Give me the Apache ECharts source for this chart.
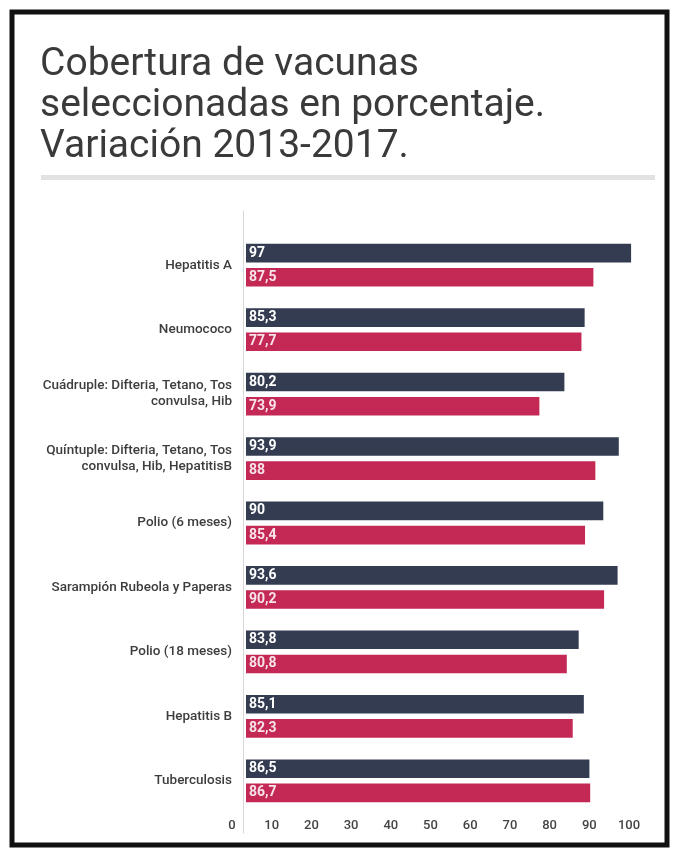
<!DOCTYPE html>
<html>
<head>
<meta charset="utf-8">
<script src="https://cdn.jsdelivr.net/npm/echarts@6/dist/echarts.min.js"></script>
<style>
  html, body { margin: 0; padding: 0; background: #ffffff; }
  #chart { width: 674px; height: 851px; }
</style>
</head>
<body>
<div id="chart"></div>
<script>
const titleText = 'Cobertura de vacunas\nseleccionadas en porcentaje.\nVariación 2013-2017.';
const categories = [
  'Hepatitis A',
  'Neumococo',
  'Cuádruple: Difteria, Tetano, Tos\nconvulsa, Hib',
  'Quíntuple: Difteria, Tetano, Tos\nconvulsa, Hib, HepatitisB',
  'Polio (6 meses)',
  'Sarampión Rubeola y Paperas',
  'Polio (18 meses)',
  'Hepatitis B',
  'Tuberculosis'
];
// printed values (labels inside the bars)
const labels2013 = [97, 85.3, 80.2, 93.9, 90, 93.6, 83.8, 85.1, 86.5];
const labels2017 = [87.5, 77.7, 73.9, 88, 85.4, 90.2, 80.8, 82.3, 86.7];
// bar lengths as drawn in the picture (the Neumococo red bar is drawn longer than its label)
const bars2013 = [97, 85.3, 80.2, 93.9, 90, 93.6, 83.8, 85.1, 86.5];
const bars2017 = [87.5, 84.5, 73.9, 88, 85.4, 90.2, 80.8, 82.3, 86.7];
const xTicks = [0, 10, 20, 30, 40, 50, 60, 70, 80, 90, 100];

const fmt = v => String(v).replace('.', ',');

const chart = echarts.init(document.getElementById('chart'), null, { renderer: 'canvas' });
chart.setOption({
  backgroundColor: '#ffffff',
  animation: false,
  title: {
    text: titleText,
    left: 35,
    top: 40,
    textStyle: {
      fontFamily: 'Roboto',
      fontSize: 39,
      fontWeight: 'normal',
      lineHeight: 41,
      color: '#3a3a3a'
    }
  },
  graphic: [
    { type: 'rect', shape: { x: 41, y: 175, width: 614, height: 5 }, style: { fill: '#e2e2e2' }, silent: true },
    { type: 'rect', shape: { x: 12, y: 12, width: 655, height: 833 }, style: { fill: 'none', stroke: '#111', lineWidth: 5 }, silent: true }
  ],
  grid: [
    { left: 246, right: 31, top: 233, bottom: 38 },
    { left: 243, width: 10, top: 211, bottom: 18 }
  ],
  xAxis: [
    {
      gridIndex: 0,
      type: 'value',
      min: xTicks[0],
      max: xTicks[xTicks.length - 1],
      interval: 10,
      axisLine: { show: false },
      axisTick: { show: false },
      splitLine: { show: false },
      axisLabel: {
        margin: 6,
        fontFamily: 'Roboto',
        fontSize: 13,
        fontWeight: 500,
        color: '#444',
        padding: [0, 28, 0, 0],
        showMinLabel: true,
        showMaxLabel: true
      }
    },
    { gridIndex: 1, type: 'value', min: 0, max: 1, show: false }
  ],
  yAxis: [
    {
      gridIndex: 0,
      type: 'category',
      data: categories,
      inverse: true,
      axisLine: { show: false },
      axisTick: { show: false },
      splitLine: { show: false },
      axisLabel: {
        margin: 14,
        fontFamily: 'Roboto',
        fontSize: 13.5,
        fontWeight: 500,
        lineHeight: 16,
        color: '#3d3d3d',
        align: 'right'
      }
    },
    {
      gridIndex: 1,
      type: 'value',
      min: 0,
      max: 1,
      axisLine: { show: true, lineStyle: { color: '#d6d6d6', width: 1 } },
      axisTick: { show: false },
      axisLabel: { show: false },
      splitLine: { show: false }
    }
  ],
  series: [
    {
      name: '2013',
      type: 'bar',
      xAxisIndex: 0,
      yAxisIndex: 0,
      data: bars2013,
      barWidth: 18.6,
      barGap: '30%',
      itemStyle: { color: '#343c52' },
      label: {
        show: true,
        position: 'insideLeft',
        distance: 3,
        formatter: p => fmt(labels2013[p.dataIndex]),
        fontFamily: 'Roboto',
        fontSize: 14,
        fontWeight: 'bold',
        color: '#ffffff'
      }
    },
    {
      name: '2017',
      type: 'bar',
      xAxisIndex: 0,
      yAxisIndex: 0,
      data: bars2017,
      barWidth: 18.6,
      barGap: '30%',
      itemStyle: { color: '#c42854' },
      label: {
        show: true,
        position: 'insideLeft',
        distance: 3,
        formatter: p => fmt(labels2017[p.dataIndex]),
        fontFamily: 'Roboto',
        fontSize: 14,
        fontWeight: 'bold',
        color: '#f7e4ea'
      }
    }
  ]
});
</script>
</body>
</html>
